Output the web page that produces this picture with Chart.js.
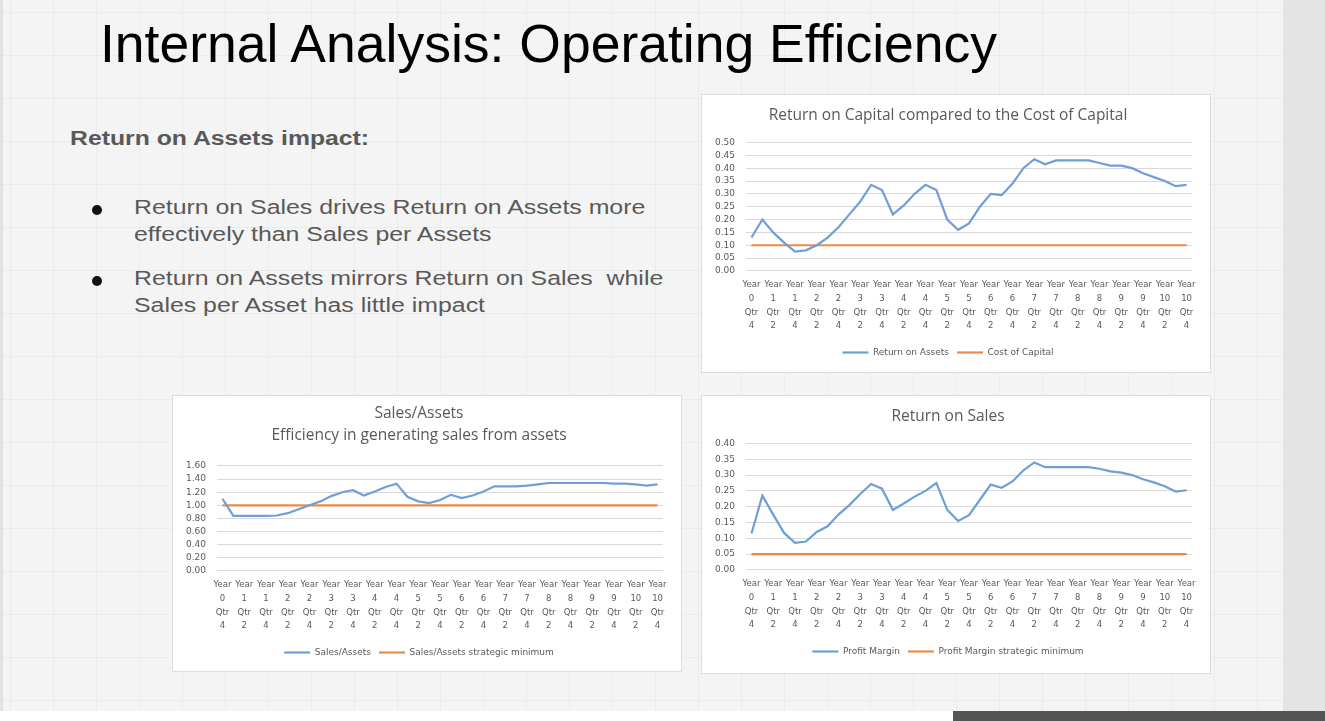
<!DOCTYPE html>
<html>
<head>
<meta charset="utf-8">
<script src="https://cdn.jsdelivr.net/npm/chart.js@4/dist/chart.umd.min.js"></script>
<style>
  html, body { margin: 0; padding: 0; }
  body {
    width: 1325px; height: 721px; overflow: hidden; position: relative;
    background-color: #f4f4f4;
    background-image:
      linear-gradient(to right, rgba(205,216,228,0.28) 1px, transparent 1px),
      linear-gradient(to bottom, rgba(205,216,228,0.28) 1px, transparent 1px);
    background-size: 43px 43px;
    background-position: 10px 12px;
    font-family: "Liberation Sans", Arial, sans-serif;
  }
  #edge { position: absolute; left: 0; top: 0; width: 3px; height: 711px; background: #e2e2e2; }
  #title {
    position: absolute; left: 100px; top: 13px;
    font-size: 53.5px; color: #000; white-space: nowrap;
  }
  #sub {
    position: absolute; left: 70px; top: 127px;
    font-size: 19.5px; font-weight: bold; color: #595959; white-space: nowrap;
    transform: scaleX(1.27); transform-origin: left top;
  }
  .bul {
    position: absolute; left: 134px; width: 430px;
    font-size: 19.5px; line-height: 27px; color: #595959;
    transform: scaleX(1.275); transform-origin: left top;
  }
  .dot {
    position: absolute; left: 92px; width: 10px; height: 10px; border-radius: 50%; background: #111;
  }
  .box {
    position: absolute; background: #fff; border: 1px solid #dcdcdc;
  }
  #sidebar { position: absolute; left: 1283px; top: 0; width: 42px; height: 711px; background: #e4e4e4; }
  #bottom { position: absolute; left: 0; top: 711px; width: 1325px; height: 10px; background: #fff; }
  #bottombar { position: absolute; left: 953px; top: 711px; width: 372px; height: 10px; background: #555; }
</style>
</head>
<body>
<div id="edge"></div>
<div id="title">Internal Analysis: Operating Efficiency</div>
<div id="sub">Return on Assets impact:</div>
<div class="dot" style="top:205px"></div>
<div class="bul" style="top:194px">Return on Sales drives Return on Assets more effectively than Sales per Assets</div>
<div class="dot" style="top:276px"></div>
<div class="bul" style="top:265px">Return on Assets mirrors Return on Sales&nbsp; while Sales per Asset has little impact</div>

<div class="box" style="left:701px; top:94px; width:508px; height:277px;"><canvas id="roaChart" width="508" height="277"></canvas></div>
<div class="box" style="left:172px; top:395px; width:508px; height:275px;"><canvas id="saChart" width="508" height="275"></canvas></div>
<div class="box" style="left:701px; top:395px; width:508px; height:277px;"><canvas id="rosChart" width="508" height="277"></canvas></div>

<div id="sidebar"></div>
<div id="bottom"></div>
<div id="bottombar"></div>

<script>
var quarters = [
  "Year 0 Qtr 4", "Year 1 Qtr 1", "Year 1 Qtr 2", "Year 1 Qtr 3", "Year 1 Qtr 4",
  "Year 2 Qtr 1", "Year 2 Qtr 2", "Year 2 Qtr 3", "Year 2 Qtr 4",
  "Year 3 Qtr 1", "Year 3 Qtr 2", "Year 3 Qtr 3", "Year 3 Qtr 4",
  "Year 4 Qtr 1", "Year 4 Qtr 2", "Year 4 Qtr 3", "Year 4 Qtr 4",
  "Year 5 Qtr 1", "Year 5 Qtr 2", "Year 5 Qtr 3", "Year 5 Qtr 4",
  "Year 6 Qtr 1", "Year 6 Qtr 2", "Year 6 Qtr 3", "Year 6 Qtr 4",
  "Year 7 Qtr 1", "Year 7 Qtr 2", "Year 7 Qtr 3", "Year 7 Qtr 4",
  "Year 8 Qtr 1", "Year 8 Qtr 2", "Year 8 Qtr 3", "Year 8 Qtr 4",
  "Year 9 Qtr 1", "Year 9 Qtr 2", "Year 9 Qtr 3", "Year 9 Qtr 4",
  "Year 10 Qtr 1", "Year 10 Qtr 2", "Year 10 Qtr 3", "Year 10 Qtr 4"
];

var returnOnAssets = [
  0.13, 0.20, 0.15, 0.11, 0.075, 0.08, 0.10, 0.13, 0.17, 0.22,
  0.27, 0.335, 0.315, 0.22, 0.255, 0.30, 0.335, 0.315, 0.20, 0.16,
  0.185, 0.25, 0.30, 0.295, 0.34, 0.40, 0.435, 0.415, 0.43, 0.43,
  0.43, 0.43, 0.42, 0.41, 0.41, 0.40, 0.38, 0.365, 0.35, 0.33, 0.335
];
var costOfCapital = 0.10;

var salesPerAssets = [
  1.10, 0.84, 0.84, 0.84, 0.84, 0.845, 0.88, 0.94, 1.00, 1.06,
  1.14, 1.20, 1.23, 1.15, 1.21, 1.28, 1.33, 1.13, 1.06, 1.035,
  1.08, 1.16, 1.11, 1.15, 1.21, 1.29, 1.29, 1.29, 1.30, 1.32,
  1.34, 1.34, 1.34, 1.34, 1.34, 1.34, 1.33, 1.33, 1.32, 1.30, 1.32
];
var salesPerAssetsMin = 1.00;

var profitMargin = [
  0.115, 0.235, 0.175, 0.117, 0.086, 0.09, 0.12, 0.138, 0.175, 0.205,
  0.24, 0.272, 0.257, 0.19, 0.21, 0.232, 0.25, 0.275, 0.19, 0.155,
  0.173, 0.222, 0.27, 0.26, 0.28, 0.315, 0.34, 0.325, 0.325, 0.325,
  0.325, 0.325, 0.32, 0.312, 0.308, 0.30, 0.287, 0.277, 0.265, 0.248, 0.252
];
var profitMarginMin = 0.05;

var BLUE = '#6e9fd6';
var ORANGE = '#ec8b48';
var TEXT = '#595959';
var TITLE_FONT = "'Open Sans', Lato, sans-serif";
var TICK_FONT = "'DejaVu Sans', sans-serif";

function flatLine(value) {
  return quarters.map(function () { return value; });
}

function makeChart(canvasId, title, series, yMax, yStep, padTop, padTitle, padBottom) {
  var ctx = document.getElementById(canvasId).getContext('2d');
  return new Chart(ctx, {
    type: 'line',
    data: {
      labels: quarters,
      datasets: series.map(function (s) {
        return {
          label: s.label,
          data: s.data,
          borderColor: s.color,
          backgroundColor: s.color,
          borderWidth: 2.2,
          pointRadius: 0,
          fill: false,
          tension: 0
        };
      })
    },
    options: {
      responsive: false,
      animation: false,
      layout: { padding: { left: 2, right: 18, top: 0, bottom: padBottom } },
      plugins: {
        tooltip: { enabled: false },
        title: {
          display: true,
          text: title,
          color: TEXT,
          font: { family: TITLE_FONT, size: 15.5, weight: 'normal', lineHeight: 1.45 },
          padding: { top: padTop, bottom: padTitle }
        },
        legend: {
          position: 'bottom',
          labels: {
            usePointStyle: true,
            pointStyle: 'line',
            pointStyleWidth: 26,
            color: TEXT,
            font: { family: TICK_FONT, size: 9 },
            padding: 8
          }
        }
      },
      scales: {
        x: {
          offset: true,
          grid: { display: false, drawTicks: false },
          border: { display: false },
          ticks: {
            autoSkip: false,
            maxRotation: 0,
            minRotation: 0,
            padding: 7,
            color: TEXT,
            font: { family: TICK_FONT, size: 8.5, lineHeight: 1.62 },
            callback: function (v, i) {
              return i % 2 === 0 ? this.getLabelForValue(v).split(' ') : '';
            }
          }
        },
        y: {
          min: 0,
          max: yMax,
          grid: { color: '#d9d9d9', drawTicks: false },
          border: { display: false },
          ticks: {
            autoSkip: false,
            stepSize: yStep,
            padding: 11,
            color: TEXT,
            font: { family: TICK_FONT, size: 9 },
            callback: function (v) { return v.toFixed(2); }
          }
        }
      }
    }
  });
}

makeChart('roaChart', 'Return on Capital compared to the Cost of Capital', [
  { label: 'Return on Assets', data: returnOnAssets, color: BLUE },
  { label: 'Cost of Capital', data: flatLine(costOfCapital), color: ORANGE }
], 0.5, 0.05, 9, 16, 5);

makeChart('saChart', ['Sales/Assets', 'Efficiency in generating sales from assets'], [
  { label: 'Sales/Assets', data: salesPerAssets, color: BLUE },
  { label: 'Sales/Assets strategic minimum', data: flatLine(salesPerAssetsMin), color: ORANGE }
], 1.6, 0.2, 6, 19, 4);

makeChart('rosChart', 'Return on Sales', [
  { label: 'Profit Margin', data: profitMargin, color: BLUE },
  { label: 'Profit Margin strategic minimum', data: flatLine(profitMarginMin), color: ORANGE }
], 0.4, 0.05, 9, 16, 7);
</script>
</body>
</html>
